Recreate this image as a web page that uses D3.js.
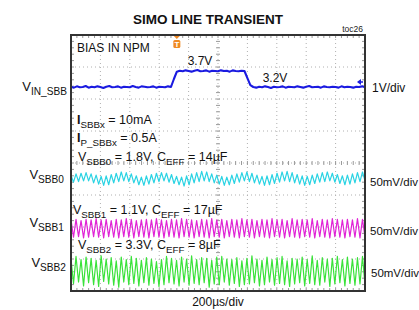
<!DOCTYPE html>
<html>
<head>
<meta charset="utf-8">
<script src="https://cdn.jsdelivr.net/npm/d3@7"></script>
<style>
body { margin: 0; background: #fff; }
svg { display: block; font-family: "Liberation Sans", Arial, sans-serif; }
</style>
</head>
<body>
<div id="chart"></div>
<script>
const WIDTH = 419;
const HEIGHT = 310;
const LEFT = 71, RIGHT = 365, TOP = 35, BOTTOM = 291;
const TIME_SPAN = 2000;   // 200us/div, 10 div
const DIVS_Y = 4;         // +-4 div from center

// VIN_SBB in volts, 1V/div
const vinValues = [
    3.21,3.18,3.22,3.19,3.2,3.23,3.18,3.21,3.19,3.22,3.2,3.17,3.21,3.23,3.19,3.2,3.22,3.18,
    3.21,3.2,3.19,3.23,3.2,3.18,3.22,3.21,3.19,3.2,3.22,3.18,3.21,3.2,3.19,3.22,3.2,
    3.45,3.68,
    3.71,3.69,3.72,3.7,3.68,3.71,3.73,3.69,3.7,3.72,3.68,3.71,3.7,3.69,3.72,3.7,3.71,3.68,
    3.72,3.7,3.69,3.71,
    3.7,3.48,3.26,
    3.2,3.18,3.21,3.19,3.22,3.2,3.17,3.21,3.19,3.2,3.22,3.18,3.21,3.2,3.19,3.22,3.2,3.18,
    3.21,3.23,3.19,3.2,3.21,3.18,3.22,3.2,3.19,3.21,3.2,3.18,3.22,3.19,3.21,3.2,3.18,3.21,
    3.2,3.22,3.19
];

// output ripple in mV around the DC level, 50mV/div
const sbb0Ripple = [
    6,-5,8,-4,9,-3,10,-3,8,-6, 6,-8,4,-10,5,-9,7,-6,9,-4,
    11,-3,10,-4,8,-6,5,-9,3,-10, 5,-8,7,-6,9,-4,10,-3,9,-5,
    7,-7,4,-9,3,-11,5,-9,8,-6, 10,-4,12,-3,11,-4,8,-6,6,-8,
    4,-10,3,-9,6,-7,8,-5,10,-3, 11,-4,9,-6,6,-8,4,-10,5,-9,
    7,-7,9,-5,11,-3,12,-4,10,-6, 7,-8,5,-10,4,-9,6,-7,8,-5,
    10,-4,11,-3,9,-5,7,-7,5,-9, 6,-8,8,-6,10,-4,11,-3
];
const sbb1Ripple = [
    14,-13,15,-12,13,-14,15,-13,14,-12, 16,-13,14,-14,15,-12,13,-13,15,-14,
    14,-12,16,-13,15,-14,13,-12,14,-13, 15,-14,14,-12,16,-13,14,-14,13,-12,
    15,-13,14,-14,16,-12,15,-13,14,-14, 13,-12,15,-13,14,-14,16,-12,14,-13,
    15,-14,13,-12,15,-13,14,-14,16,-12, 14,-13,15,-14,13,-12,15,-13,14,-14,
    16,-12,14,-13,15,-14,13,-12,16,-13, 14,-14,15,-12,14,-13,16,-14,13,-12,
    15,-13,14,-14,16,-12,15,-13,14,-14, 15,-12,14,-13,16,-14,15,-13
];
const sbb2Ripple = [
    20,-18,24,-16,19,-22,23,-17,21,-20, 18,-23,25,-15,20,-19,22,-21,17,-24,
    23,-16,19,-20,24,-18,21,-22,18,-17, 22,-21,20,-18,16,-23,19,-20,24,-17,
    21,-19,18,-22,23,-16,20,-21,25,-18, 19,-20,22,-17,21,-24,18,-19,23,-20,
    24,-16,20,-21,19,-18,22,-23,17,-20, 21,-19,25,-17,20,-22,18,-20,23,-16,
    19,-21,22,-18,24,-20,17,-23,21,-19, 20,-17,23,-22,19,-18,25,-20,18,-21,
    22,-16,20,-23,21,-19,24,-17,19,-22, 23,-18,20,-21,22,-19,24,-20
];

const xGridTicks = d3.range(0, TIME_SPAN + 1, 200);
const yGridTicks = d3.range(-DIVS_Y, DIVS_Y + 1, 1);

let svg = d3.select("#chart")
    .append("svg")
    .attr("width", WIDTH)
    .attr("height", HEIGHT);

let x = d3.scaleLinear().domain([0, TIME_SPAN]).range([LEFT, RIGHT]);
let y = d3.scaleLinear().domain([-DIVS_Y, DIVS_Y]).range([BOTTOM, TOP]);

// grid
let grid = svg.append("g");
grid.selectAll(".vg")
    .data(xGridTicks.slice(1, -1))
    .join("line")
    .attr("x1", d => x(d)).attr("x2", d => x(d))
    .attr("y1", TOP).attr("y2", BOTTOM)
    .attr("stroke", "#b0b0b0")
    .attr("stroke-dasharray", "1,3");
grid.selectAll(".hg")
    .data(yGridTicks.slice(1, -1))
    .join("line")
    .attr("x1", LEFT).attr("x2", RIGHT)
    .attr("y1", d => y(d)).attr("y2", d => y(d))
    .attr("stroke", "#b0b0b0")
    .attr("stroke-dasharray", "1,3");

// minor ticks on center axes and frame edges
const minorX = d3.range(0, TIME_SPAN + 1, 40);
const minorY = d3.range(-DIVS_Y, DIVS_Y + 0.01, 0.2);
grid.selectAll(".mx")
    .data(minorX)
    .join("line")
    .attr("x1", d => x(d)).attr("x2", d => x(d))
    .attr("y1", y(0) - 2).attr("y2", y(0) + 2)
    .attr("stroke", "#999");
grid.selectAll(".my")
    .data(minorY)
    .join("line")
    .attr("x1", x(TIME_SPAN / 2) - 2).attr("x2", x(TIME_SPAN / 2) + 2)
    .attr("y1", d => y(d)).attr("y2", d => y(d))
    .attr("stroke", "#999");
grid.selectAll(".mxt")
    .data(minorX)
    .join("line")
    .attr("x1", d => x(d)).attr("x2", d => x(d))
    .attr("y1", TOP).attr("y2", TOP + 3)
    .attr("stroke", "#999");
grid.selectAll(".mxb")
    .data(minorX)
    .join("line")
    .attr("x1", d => x(d)).attr("x2", d => x(d))
    .attr("y1", BOTTOM - 3).attr("y2", BOTTOM)
    .attr("stroke", "#999");
grid.selectAll(".myl")
    .data(minorY)
    .join("line")
    .attr("x1", LEFT).attr("x2", LEFT + 3)
    .attr("y1", d => y(d)).attr("y2", d => y(d))
    .attr("stroke", "#999");
grid.selectAll(".myr")
    .data(minorY)
    .join("line")
    .attr("x1", RIGHT - 3).attr("x2", RIGHT)
    .attr("y1", d => y(d)).attr("y2", d => y(d))
    .attr("stroke", "#999");

// traces
const channels = [
    { values: vinValues, ref: 3.2, perDiv: 1, pos: 2.375, color: "#1a1ae0", width: 2.1 },
    { values: sbb0Ripple, ref: 0, perDiv: 50, pos: -0.5, color: "#2ad3e3", width: 1.2 },
    { values: sbb1Ripple, ref: 0, perDiv: 50, pos: -2.06, color: "#e024d6", width: 1.2 },
    { values: sbb2Ripple, ref: 0, perDiv: 50, pos: -3.4, color: "#3ae23a", width: 1.2 }
];

channels.forEach(ch => {
    let step = TIME_SPAN / (ch.values.length - 1);
    let line = d3.line()
        .x((d, i) => x(i * step))
        .y(d => y((d - ch.ref) / ch.perDiv + ch.pos));
    svg.append("path")
        .datum(ch.values)
        .attr("d", line)
        .attr("fill", "none")
        .attr("stroke", ch.color)
        .attr("stroke-width", ch.width)
        .attr("stroke-linejoin", "round");
});

// frame
svg.append("rect")
    .attr("x", LEFT).attr("y", TOP)
    .attr("width", RIGHT - LEFT).attr("height", BOTTOM - TOP)
    .attr("fill", "none")
    .attr("stroke", "#333")
    .attr("stroke-width", 2);

// trigger marker
let trig = svg.append("g").attr("transform", `translate(${x(720)},0)`);
trig.append("path").attr("d", "M-3,36 L3,36 L0,39 Z").attr("fill", "#f08a24");
trig.append("rect").attr("x", -3.5).attr("y", 40).attr("width", 7).attr("height", 8)
    .attr("rx", 1.5).attr("fill", "#f08a24");
trig.append("text").attr("x", 0).attr("y", 47).attr("text-anchor", "middle")
    .style("font-size", "8px").style("font-weight", "bold").attr("fill", "#fff").text("T");

// ground marker of VIN channel
let gnd = svg.append("g").attr("transform", `translate(${RIGHT - 4},${y(2.375) - 5})`);
gnd.append("path").attr("d", "M-4,0 L0,-3 L0,3 Z").attr("fill", "#1a1ae0");
gnd.append("line").attr("x1", 0).attr("x2", 2).attr("y1", 0).attr("y2", 0)
    .attr("stroke", "#1a1ae0").attr("stroke-width", 1.5);

// text helper: parts are [string, isSubscript]
function richText(px, py, parts, size, anchor, weightFirst) {
    let t = svg.append("text")
        .attr("x", px).attr("y", py)
        .attr("text-anchor", anchor || "start")
        .attr("fill", "#111")
        .style("font-size", size + "px");
    let shifted = false;
    parts.forEach((p, i) => {
        let ts = t.append("tspan").text(p[0]);
        if (p[1] && !shifted) { ts.attr("dy", 3.5); shifted = true; }
        if (!p[1] && shifted) { ts.attr("dy", -3.5); shifted = false; }
        if (p[1]) ts.style("font-size", (size * 0.78) + "px");
        if (i == 0 && weightFirst) ts.style("font-weight", "bold");
    });
    return t;
}

svg.append("text").attr("x", 208).attr("y", 24).attr("text-anchor", "middle")
    .style("font-size", "13.5px").style("font-weight", "bold").attr("fill", "#111")
    .text("SIMO LINE TRANSIENT");
svg.append("text").attr("x", 363).attr("y", 32).attr("text-anchor", "end")
    .style("font-size", "8.5px").attr("fill", "#222").text("toc26");

richText(77, 52, [["BIAS IN NPM", false]], 12);
richText(200, 65, [["3.7V", false]], 12, "middle");
richText(275, 82, [["3.2V", false]], 12, "middle");

richText(77, 124, [["I", false], ["SBBx", true], [" = 10mA", false]], 12.5, "start", true);
richText(77, 142, [["I", false], ["P_SBBx", true], [" = 0.5A", false]], 12.5, "start", true);
richText(78, 161, [["V", false], ["SBB0", true], [" = 1.8V, C", false], ["EFF", true], [" = 14\u00b5F", false]], 12.5);
richText(73, 214, [["V", false], ["SBB1", true], [" = 1.1V, C", false], ["EFF", true], [" = 17\u00b5F", false]], 12.5);
richText(78, 249, [["V", false], ["SBB2", true], [" = 3.3V, C", false], ["EFF", true], [" = 8\u00b5F", false]], 12.5);

richText(67, 91, [["V", false], ["IN_SBB", true]], 13, "end");
richText(64, 179, [["V", false], ["SBB0", true]], 13, "end");
richText(64, 227, [["V", false], ["SBB1", true]], 13, "end");
richText(66, 267, [["V", false], ["SBB2", true]], 13, "end");

richText(372, 92, [["1V/div", false]], 12);
richText(370, 186, [["50mV/div", false]], 11.5);
richText(370, 235, [["50mV/div", false]], 11.5);
richText(371, 277, [["50mV/div", false]], 11.5);

richText(218, 306, [["200\u00b5s/div", false]], 12, "middle");
</script>
</body>
</html>
